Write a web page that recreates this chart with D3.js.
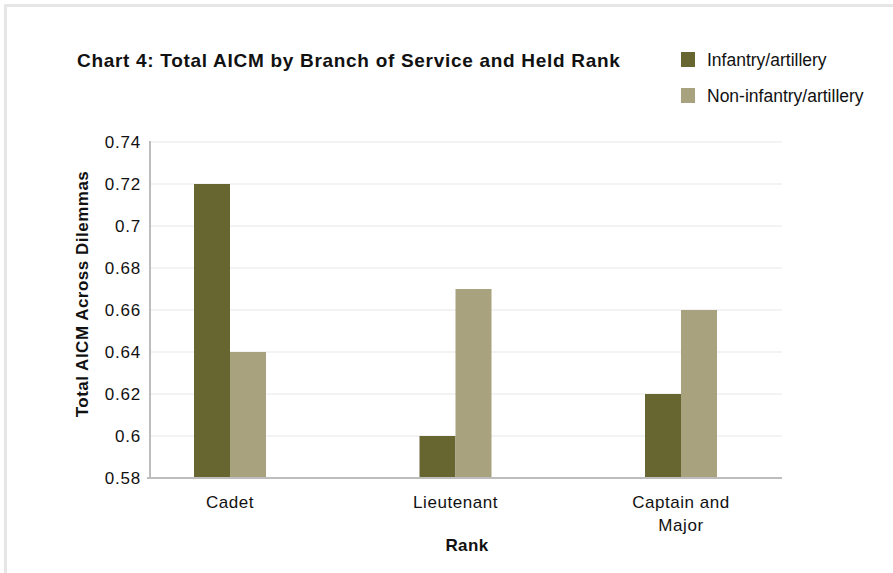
<!DOCTYPE html>
<html>
<head>
<meta charset="utf-8">
<script src="https://cdn.jsdelivr.net/npm/d3@7"></script>
<style>
  html, body { margin: 0; padding: 0; background: #fff; }
  svg { display: block; font-family: "Liberation Sans", Arial, Helvetica, sans-serif; }
</style>
</head>
<body>
<svg id="chart" width="893" height="573"></svg>
<script>
// Data
const ranks = ["Cadet", "Lieutenant", "Captain and Major"];
const rankLines = [["Cadet"], ["Lieutenant"], ["Captain and", "Major"]];
const seriesNames = ["Infantry/artillery", "Non-infantry/artillery"];
const infantry = [0.72, 0.60, 0.62];
const nonInfantry = [0.64, 0.67, 0.66];
const yTicks = [0.58, 0.60, 0.62, 0.64, 0.66, 0.68, 0.70, 0.72, 0.74];
const yTickLabels = ["0.58", "0.6", "0.62", "0.64", "0.66", "0.68", "0.7", "0.72", "0.74"];
const colors = ["#676530", "#a8a27e"];

const svg = d3.select("#chart");

// Outer frame (top and left edges)
svg.append("rect").attr("x", 4).attr("y", 4).attr("width", 889).attr("height", 3).attr("fill", "#e6e6e6");
svg.append("rect").attr("x", 4).attr("y", 4).attr("width", 3).attr("height", 569).attr("fill", "#e6e6e6");

const plotLeft = 150, plotRight = 782, plotTop = 142, plotBottom = 478;

const y = d3.scaleLinear().domain([0.58, 0.74]).range([plotBottom, plotTop]);
const x = d3.scalePoint().domain(ranks).range([230, 681]);
const xs = d3.scaleBand().domain(seriesNames).range([-36, 36]).padding(0);

// Gridlines
svg.append("g").selectAll("line").data(yTicks.slice(1)).join("line")
  .attr("x1", plotLeft).attr("x2", plotRight)
  .attr("y1", d => y(d)).attr("y2", d => y(d))
  .attr("stroke", "#f3f3f3").attr("stroke-width", 2);

// Bars
const groups = svg.append("g").selectAll("g").data(ranks).join("g")
  .attr("transform", d => `translate(${x(d)},0)`);
groups.selectAll("rect")
  .data((d, i) => [
    { s: seriesNames[0], v: infantry[i], c: colors[0] },
    { s: seriesNames[1], v: nonInfantry[i], c: colors[1] }
  ])
  .join("rect")
  .attr("x", d => xs(d.s))
  .attr("width", xs.bandwidth())
  .attr("y", d => y(d.v))
  .attr("height", d => plotBottom - y(d.v))
  .attr("fill", d => d.c);

// Axes lines
svg.append("line").attr("x1", plotLeft).attr("x2", plotLeft)
  .attr("y1", plotTop - 1).attr("y2", plotBottom + 1)
  .attr("stroke", "#bdbdbd").attr("stroke-width", 2);
svg.append("line").attr("x1", plotLeft - 3).attr("x2", plotRight)
  .attr("y1", plotBottom).attr("y2", plotBottom)
  .attr("stroke", "#bdbdbd").attr("stroke-width", 2);

// Y tick labels
const yAxis = d3.axisLeft(y).tickValues(yTicks)
  .tickFormat((d, i) => yTickLabels[i]).tickSize(0).tickPadding(9);
const ya = svg.append("g").attr("transform", `translate(${plotLeft},0)`).call(yAxis);
ya.select(".domain").remove();
ya.selectAll("text").attr("font-size", 17).attr("fill", "#111")
  .attr("letter-spacing", "0.8px")
  .attr("font-family", "'Liberation Sans', Arial, sans-serif");

// X category labels
const xl = svg.append("g").selectAll("text").data(ranks).join("text")
  .attr("x", d => x(d)).attr("y", 508)
  .attr("text-anchor", "middle").attr("font-size", 17).attr("letter-spacing", "0.55px")
  .attr("fill", "#111");
xl.each(function(d, i) {
  d3.select(this).selectAll("tspan").data(rankLines[i]).join("tspan")
    .attr("x", x(d)).attr("dy", (t, j) => j === 0 ? 0 : 23).text(t => t);
});

// Axis titles
svg.append("text").attr("x", 467).attr("y", 551).attr("text-anchor", "middle")
  .attr("font-size", 17).attr("font-weight", "bold").attr("letter-spacing", "0.4px")
  .attr("fill", "#111").text("Rank");
svg.append("text").attr("transform", "translate(88,294) rotate(-90)")
  .attr("text-anchor", "middle").attr("font-size", 17).attr("font-weight", "bold")
  .attr("letter-spacing", "0.5px")
  .attr("fill", "#111").text("Total AICM Across Dilemmas");

// Title
svg.append("text").attr("x", 77).attr("y", 67).attr("font-size", 19).attr("font-weight", "bold")
  .attr("letter-spacing", "0.7px")
  .attr("fill", "#111").text("Chart 4: Total AICM by Branch of Service and Held Rank");

// Legend
const leg = svg.append("g").selectAll("g").data(seriesNames).join("g")
  .attr("transform", (d, i) => `translate(681,${52 + i * 36})`);
leg.append("rect").attr("width", 14).attr("height", 15).attr("fill", (d, i) => colors[i]);
leg.append("text").attr("x", 26).attr("y", 14).attr("font-size", 17.5).attr("fill", "#111").text(d => d);
</script>
</body>
</html>
